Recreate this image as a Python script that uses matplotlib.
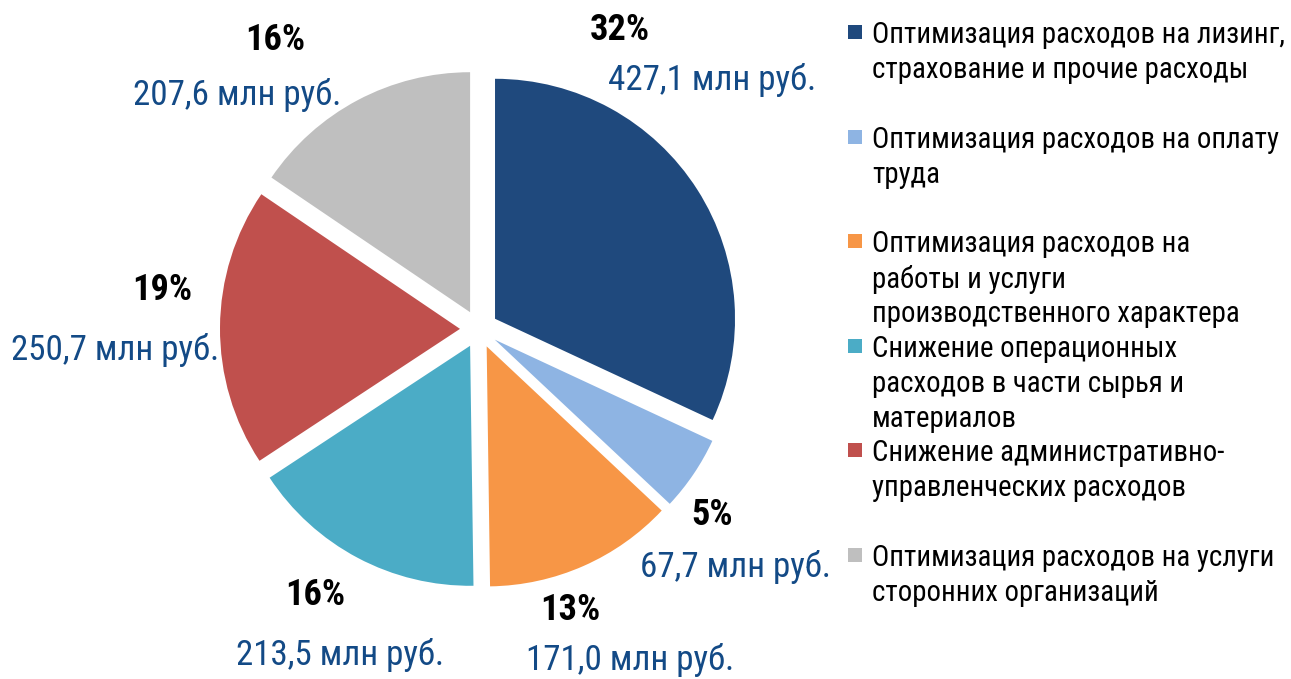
import matplotlib.pyplot as plt
from matplotlib import font_manager
from matplotlib.patches import Rectangle

# data
categories = [
    'Оптимизация расходов на лизинг,\nстрахование и прочие расходы',
    'Оптимизация расходов на оплату\nтруда',
    'Оптимизация расходов на\nработы и услуги\nпроизводственного характера',
    'Снижение операционных\nрасходов в части сырья и\nматериалов',
    'Снижение административно-\nуправленческих расходов',
    'Оптимизация расходов на услуги\nсторонних организаций',
]
values = [427.1, 67.7, 171.0, 213.5, 250.7, 207.6]
colors = ['#1F497D', '#8EB4E3', '#F79646', '#4BACC6', '#C0504D', '#BFBFBF']

# label layout (pixel positions, y from top): percent, value
pct_pos = [(620, 30), (712, 515), (570, 610), (315, 595), (162, 290), (275, 40)]
val_pos = [(712, 80), (735, 567), (630, 660), (340, 655), (115, 350), (237, 95)]

W, H = 1291, 679

# pick a narrow font (the reference uses Arial Narrow)
have = {f.name for f in font_manager.fontManager.ttflist}
wanted = ['Liberation Sans Narrow', 'Arial Narrow', 'Roboto Condensed',
          'Archivo Narrow', 'PT Sans Narrow', 'Open Sans Condensed',
          'Fira Sans Condensed', 'IBM Plex Sans Condensed', 'Liberation Sans']
font = next(f for f in wanted if f in have)
plt.rcParams['font.family'] = [font, 'DejaVu Sans']

fig = plt.figure(figsize=(W / 100, H / 100), dpi=100)
ax = fig.add_axes([0, 0, 1, 1])
renderer = fig.canvas.get_renderer()


def fit_size(s, width, **kw):
    # font size that makes string s about `width` pixels wide
    t = ax.text(0, 0, s, fontsize=20, **kw)
    w = t.get_window_extent(renderer).width
    t.remove()
    return 20 * width / w


leg_fs = fit_size('Оптимизация расходов на лизинг,', 411)
val_fs = fit_size('427,1 млн руб.', 208)
pct_fs = fit_size('32%', 60, fontweight='bold')

ax.pie(values, colors=colors, startangle=90, counterclock=False,
       radius=240, center=(479, H - 329), explode=[19] * len(values),
       wedgeprops=dict(linewidth=0))

# pie() resets the limits, so set them afterwards
ax.set_xlim(0, W)
ax.set_ylim(0, H)
ax.set_aspect('equal')
ax.axis('off')

total = sum(values)
for v, (px, py), (vx, vy) in zip(values, pct_pos, val_pos):
    ax.text(px, H - py, f'{round(v / total * 100):.0f}%', ha='center',
            va='center', fontsize=pct_fs, fontweight='bold', color='black')
    ax.text(vx, H - vy, f'{v:.1f}'.replace('.', ',') + ' млн руб.',
            ha='center', va='center', fontsize=val_fs, color='#134A86')

# legend drawn by hand, one text per line
for i, (lab, c) in enumerate(zip(categories, colors)):
    y = H - (32 + 104.6 * i)
    ax.add_patch(Rectangle((848, y - 7), 14, 14, color=c, lw=0))
    for j, line in enumerate(lab.split('\n')):
        ax.text(872, y - 35 * j, line, ha='left', va='center_baseline',
                fontsize=leg_fs, color='black')

fig.savefig('out.png', dpi=100)
